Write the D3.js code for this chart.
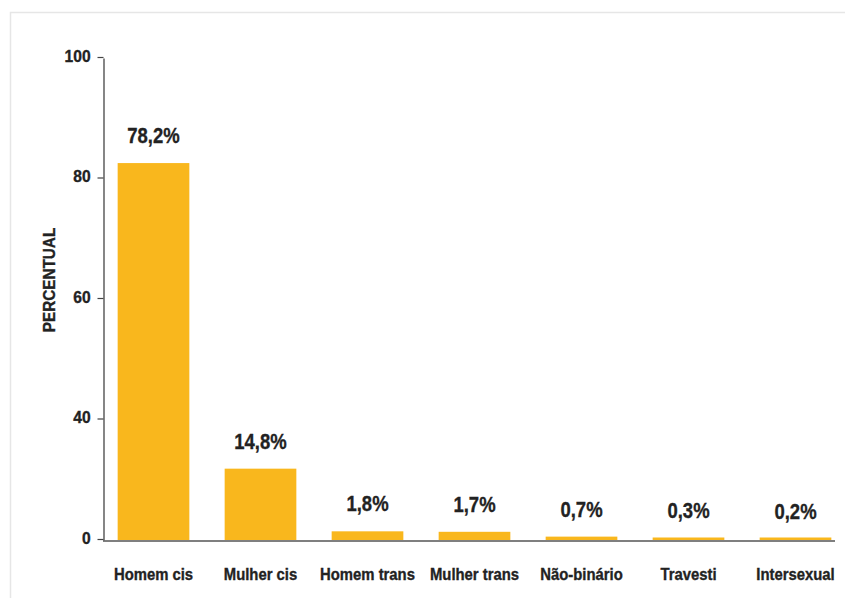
<!DOCTYPE html>
<html>
<head>
<meta charset="utf-8">
<script src="https://cdn.jsdelivr.net/npm/d3@7"></script>
<style>
  body { margin: 0; background: #fff; }
  svg text { font-family: "Liberation Sans", Arial, sans-serif; font-weight: bold; fill: #222; stroke: #222; stroke-width: 0.35px; }
</style>
</head>
<body>
<div id="chart"></div>
<script>
var CATEGORIES = ['Homem cis', 'Mulher cis', 'Homem trans', 'Mulher trans', 'Não-binário', 'Travesti', 'Intersexual'];
var VALUES = [78.2, 14.8, 1.8, 1.7, 0.7, 0.3, 0.2];
var VALUE_LABELS = ['78,2%', '14,8%', '1,8%', '1,7%', '0,7%', '0,3%', '0,2%'];
var TICK_VALUES = [0, 25, 50, 75, 100];
var TICK_LABELS = ['0', '40', '60', '80', '100'];

var w = 845,
    h = 598;

var svg = d3.select('#chart')
    .append('svg')
    .attr('width', w)
    .attr('height', h);

// light frame
svg.append('path')
    .attr('d', 'M10.5,' + h + 'V12.5H' + w)
    .attr('fill', 'none')
    .attr('stroke', '#e6e6e6')
    .attr('stroke-width', 1.5);

var x = d3.scaleBand()
    .domain(CATEGORIES)
    .range([100, 849])
    .paddingInner(0.33)
    .paddingOuter(0.165);

var y = d3.scaleLinear()
    .domain([0, 100])
    .range([540, 58]);

// narrow look: squeeze the text horizontally
function narrow(px, py, sx) {
    return 'translate(' + px + ',' + py + ') scale(' + sx + ',1)';
}

// bars
svg.selectAll('rect.bar')
    .data(VALUES)
    .enter()
    .append('rect')
    .attr('class', 'bar')
    .attr('x', function(d, i) { return x(CATEGORIES[i]); })
    .attr('y', function(d) { return Math.min(y(d), y(0) - 2.5); })
    .attr('width', x.bandwidth())
    .attr('height', function(d) { return Math.max(y(0) - y(d), 2.5); })
    .attr('fill', '#f9b71d');

// value labels
svg.selectAll('text.value')
    .data(VALUES)
    .enter()
    .append('text')
    .attr('class', 'value')
    .attr('transform', function(d, i) {
        return narrow(x(CATEGORIES[i]) + x.bandwidth() / 2, Math.min(y(d) - 28, y(0) - 23), 0.84);
    })
    .attr('dy', '0.36em')
    .attr('text-anchor', 'middle')
    .style('font-size', '22px')
    .text(function(d, i) { return VALUE_LABELS[i]; });

// y axis
var yAxis = svg.append('g')
    .attr('transform', 'translate(103.5,0)')
    .call(d3.axisLeft(y)
        .tickValues(TICK_VALUES)
        .tickFormat(function(d, i) { return TICK_LABELS[i]; })
        .tickSize(6)
        .tickSizeOuter(0)
        .tickPadding(8));
yAxis.select('.domain').attr('stroke', '#444').attr('stroke-width', 1.3);
yAxis.selectAll('.tick line').attr('stroke', '#444').attr('stroke-width', 1.2)
    .attr('transform', 'translate(0,-1)');
yAxis.selectAll('.tick text')
    .attr('dy', '0.2em')
    .attr('transform', 'scale(0.92,1)')
    .style('font-size', '17px')
    .style('fill', '#222');

// x axis line
svg.append('line')
    .attr('x1', 103)
    .attr('x2', 835)
    .attr('y1', 541)
    .attr('y2', 541)
    .attr('stroke', '#555')
    .attr('stroke-width', 1.6);

// category labels
svg.selectAll('text.cat')
    .data(CATEGORIES)
    .enter()
    .append('text')
    .attr('class', 'cat')
    .attr('transform', function(d) { return narrow(x(d) + x.bandwidth() / 2, 574, 0.9); })
    .attr('dy', '0.36em')
    .attr('text-anchor', 'middle')
    .style('font-size', '16.5px')
    .text(function(d) { return d; });

// axis title
svg.append('text')
    .attr('transform', 'translate(49,280) rotate(-90) scale(0.9,1)')
    .attr('dy', '0.36em')
    .attr('text-anchor', 'middle')
    .style('font-size', '17px')
    .text('PERCENTUAL');
</script>
</body>
</html>
